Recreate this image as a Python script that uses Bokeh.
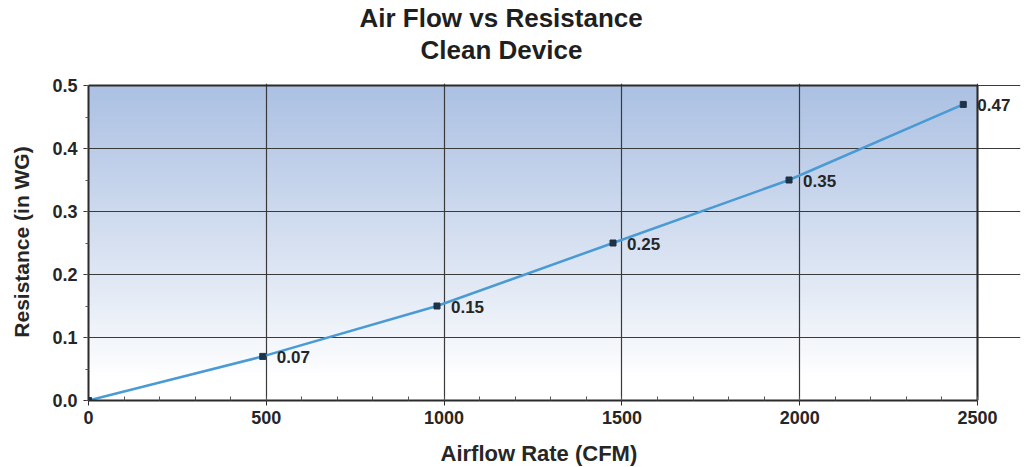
import numpy as np
from bokeh.plotting import figure
from bokeh.models import (ColumnDataSource, Label, Title, Range1d, FixedTicker,
                          NumeralTickFormatter)
from bokeh.embed import file_html
from bokeh.resources import INLINE

# ---- data ----
airflow = [0, 490, 980, 1475, 1970, 2460]
resistance = [0.0, 0.07, 0.15, 0.25, 0.35, 0.47]
point_labels = ["", "0.07", "0.15", "0.25", "0.35", "0.47"]
x_ticks = [0, 500, 1000, 1500, 2000, 2500]
y_ticks = [0.0, 0.1, 0.2, 0.3, 0.4, 0.5]
title_lines = ["Air Flow vs Resistance", "Clean Device"]
x_label = "Airflow Rate (CFM)"
y_label = "Resistance (in WG)"

FONT = "Liberation Sans"
DARK = "#2b2b2b"
TXT = "#262626"

W, H = 1024, 466
LEFT, RIGHT_VIS, TOP, BOTTOM = 88, 977, 83, 66
RIGHT_BORDER = 4
x_max, y_max = x_ticks[-1], y_ticks[-1]
# extend the frame to the right (room for the last point label), keep the
# visible chart box on 0..x_max via axis/grid bounds
frame_w = W - LEFT - RIGHT_BORDER
x_end = x_max * frame_w / (RIGHT_VIS - LEFT)
frame_h = H - TOP - BOTTOM
y_end = y_max * frame_h / (frame_h - 2)

p = figure(width=W, height=H, output_backend="svg", toolbar_location=None,
           x_range=Range1d(0, x_end), y_range=Range1d(0, y_end),
           min_border_left=LEFT, min_border_right=RIGHT_BORDER,
           min_border_top=TOP, min_border_bottom=BOTTOM,
           background_fill_color="white", border_fill_color="white")
p.title = None
p.outline_line_color = None

# Titles (stacked outward from the frame): spacer, line 2, line 1
spacer = Title(text=" ", text_font_size="1px", standoff=16)
t2 = Title(text=title_lines[1], align="left", offset=332, text_font=FONT,
           text_font_size="26px", text_font_style="bold", text_color="#1f1f1f",
           standoff=0)
t1 = Title(text=title_lines[0], align="left", offset=271, text_font=FONT,
           text_font_size="26px", text_font_style="bold", text_color="#1f1f1f",
           standoff=0)
p.add_layout(spacer, "above")
p.add_layout(t2, "above")
p.add_layout(t1, "above")

# x axis title, centred under the visible chart box
spacer_b = Title(text=" ", text_font_size="1px", standoff=9)
xt = Title(text=x_label, align="left", offset=352, text_font=FONT,
           text_font_size="22px", text_font_style="bold", text_color=TXT,
           standoff=0)
p.add_layout(spacer_b, "below")
p.add_layout(xt, "below")

# gradient background (decoration)
n = 200
t = np.linspace(0, 1, n)  # 0 bottom, 1 top
top = np.array([172, 193, 227])
white = np.array([255, 255, 255])
frac = np.clip((t - 0.08) / 0.92, 0, 1) ** 0.9
cols = white[None, :] * (1 - frac[:, None]) + top[None, :] * frac[:, None]
img = np.empty((n, 1), dtype=np.uint32)
view = img.view(dtype=np.uint8).reshape((n, 1, 4))
view[:, 0, 0] = cols[:, 0].astype(np.uint8)
view[:, 0, 1] = cols[:, 1].astype(np.uint8)
view[:, 0, 2] = cols[:, 2].astype(np.uint8)
view[:, 0, 3] = 255
p.image_rgba(image=[img], x=0, y=0, dw=x_max, dh=y_max, level="image")

# grid
p.xgrid.ticker = FixedTicker(ticks=x_ticks)
p.ygrid.ticker = FixedTicker(ticks=y_ticks)
for g in (p.xgrid, p.ygrid):
    g.grid_line_color = "#3a3a3a"
    g.grid_line_width = 1.2
    g.level = "underlay"
p.xgrid.bounds = (0, y_max)
p.ygrid.bounds = (0, x_max)

# top / right border of the chart box
p.line(x=[x_ticks[0], x_max, x_max], y=[y_max, y_max, y_ticks[0]],
       line_color=DARK, line_width=2)

src = ColumnDataSource(dict(x=airflow, y=resistance))
p.line("x", "y", source=src, line_color="#4a9ad4", line_width=2.5)
p.scatter("x", "y", source=src, marker="square", size=6, fill_color="#1e3347",
          line_color="#1e3347")

for xv, yv, lab in zip(airflow, resistance, point_labels):
    if lab:
        p.add_layout(Label(x=xv, y=yv, text=lab, x_offset=14, y_offset=-1,
                           text_baseline="middle", text_font=FONT,
                           text_font_size="17px", text_font_style="bold",
                           text_color=TXT))

# axes
xa = p.xaxis[0]
ya = p.yaxis[0]
xa.ticker = FixedTicker(ticks=x_ticks, minor_ticks=list(range(0, 2501, 100)))
ya.ticker = FixedTicker(ticks=y_ticks, minor_ticks=[i * 0.05 for i in range(11)])
ya.formatter = NumeralTickFormatter(format="0.0")
xa.bounds = (0, x_max)
ya.bounds = (0, y_max)
for ax in (xa, ya):
    ax.axis_line_color = DARK
    ax.axis_line_width = 2
    ax.major_tick_line_color = DARK
    ax.minor_tick_line_color = "#555555"
    ax.major_tick_out = 5
    ax.major_tick_in = 0
    ax.major_label_text_font = FONT
    ax.major_label_text_font_size = "18px"
    ax.major_label_text_font_style = "bold"
    ax.major_label_text_color = TXT
    ax.axis_label_text_font = FONT
    ax.axis_label_text_font_size = "21px"
    ax.axis_label_text_font_style = "bold"
    ax.axis_label_text_color = TXT
xa.minor_tick_in = 4
xa.minor_tick_out = 0
ya.minor_tick_in = 0
ya.minor_tick_out = 3
xa.major_label_standoff = 5
ya.major_label_standoff = 6
ya.axis_label = y_label
ya.axis_label_standoff = 16

open("out.html", "w").write(file_html(p, INLINE))
